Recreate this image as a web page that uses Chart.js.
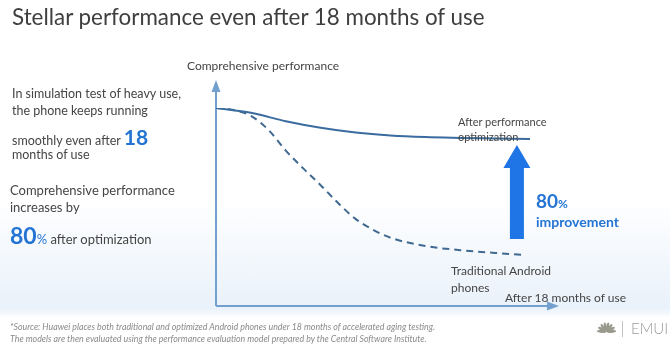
<!DOCTYPE html>
<html>
<head>
<meta charset="utf-8">
<script src="https://cdn.jsdelivr.net/npm/chart.js@4.4.1/dist/chart.umd.min.js"></script>
<style>
  html, body { margin: 0; padding: 0; }
  body {
    width: 670px; height: 350px; overflow: hidden; position: relative;
    font-family: Lato, "Open Sans", sans-serif; color: #454545;
    background: linear-gradient(to bottom, #ffffff 0px, #ffffff 200px, #e9f1fa 308px, #ffffff 318px, #ffffff 350px);
  }
  #chart { position: absolute; left: 0; top: 0; }
  .t { position: absolute; white-space: nowrap; line-height: 1; }
  .big { color: #2474d4; font-weight: bold; }
  .foot { font-style: italic; color: #8a8a8a; font-size: 8.8px; }
</style>
</head>
<body>
<canvas id="chart" width="670" height="350"></canvas>

<div class="t" style="left:12px; top:6px; font-size:22.4px; color:#3f3f3f;">Stellar performance even after 18 months of use</div>

<div class="t" style="left:12px; top:88px; font-size:12.5px;">In simulation test of heavy use,</div>
<div class="t" style="left:12px; top:105px; font-size:12.5px;">the phone keeps running</div>
<div class="t" style="left:12px; top:126px; font-size:12.5px;">smoothly even after <span class="big" style="font-size:21px;">18</span></div>
<div class="t" style="left:12px; top:149px; font-size:12.5px;">months of use</div>
<div class="t" style="left:10px; top:184px; font-size:13px;">Comprehensive performance</div>
<div class="t" style="left:10px; top:201px; font-size:13px;">increases by</div>
<div class="t" style="left:10px; top:224px; font-size:13px;"><span class="big" style="font-size:23px;">80</span><span class="big" style="font-size:13px; font-weight:normal;">%</span> after optimization</div>

<div class="t" style="left:187px; top:60px; font-size:12px;">Comprehensive performance</div>
<div class="t" style="left:458px; top:116px; font-size:11px;">After performance</div>
<div class="t" style="left:458px; top:131px; font-size:11px;">optimization</div>
<div class="t" style="left:536px; top:191px; font-size:19px;"><span class="big">80</span><span class="big" style="font-size:12px;">%</span></div>
<div class="t big" style="left:536px; top:215px; font-size:14px;">improvement</div>
<div class="t" style="left:451px; top:265px; font-size:12px;">Traditional Android</div>
<div class="t" style="left:451px; top:282px; font-size:12px;">phones</div>
<div class="t" style="left:505px; top:292px; font-size:12px;">After 18 months of use</div>

<div class="t foot" style="left:10px; top:323px;">*Source: Huawei places both traditional and optimized Android phones under 18 months of accelerated aging testing.</div>
<div class="t foot" style="left:10px; top:335px;">The models are then evaluated using the performance evaluation model prepared by the Central Software Institute.</div>
<div class="t" style="left:631px; top:321px; font-size:15px; color:#9a9a9a; font-weight:300;">EMUI</div>

<script>
// months of use (x) and comprehensive performance index (y)
const optMonths = [0, 2, 4, 6, 8, 10, 12, 14, 16, 18];
const optimized = [100, 97.6, 93.3, 90.0, 87.6, 86.1, 85.3, 84.9, 84.6, 84.3];

const tradMonths = [0, 1, 2, 3, 4, 5, 6, 7, 8, 9, 10, 12, 14, 16, 17.7];
const traditional = [100, 99, 96, 89, 78.5, 69.5, 61, 52, 44, 38.5, 34.5, 30.3, 28.2, 26.8, 25.8];

// big blue arrow between the two curves
const arrowMonth = 17.25;
const arrowFrom = 33.8;
const arrowTo = 81.3;

const axisColor = '#74a0cf';

function toPoints(xs, ys) {
    return xs.map(function(x, i) { return { x: x, y: ys[i] }; });
}

const slidePlugin = {
    id: 'slide',
    beforeDatasetsDraw: function(chart) {
        var ctx = chart.ctx, a = chart.chartArea;
        ctx.save();
        ctx.strokeStyle = axisColor;
        ctx.fillStyle = axisColor;
        ctx.lineWidth = 2;
        // y axis
        ctx.beginPath();
        ctx.moveTo(a.left, a.bottom);
        ctx.lineTo(a.left, 90);
        ctx.stroke();
        ctx.beginPath();
        ctx.moveTo(a.left, 80);
        ctx.lineTo(a.left - 4.5, 92);
        ctx.lineTo(a.left + 4.5, 92);
        ctx.closePath();
        ctx.fill();
        // x axis
        ctx.beginPath();
        ctx.moveTo(a.left, a.bottom);
        ctx.lineTo(549, a.bottom);
        ctx.stroke();
        ctx.beginPath();
        ctx.moveTo(559, a.bottom);
        ctx.lineTo(547, a.bottom - 4.5);
        ctx.lineTo(547, a.bottom + 4.5);
        ctx.closePath();
        ctx.fill();
        ctx.restore();
    },
    afterDatasetsDraw: function(chart) {
        var ctx = chart.ctx;
        var xs = chart.scales.x, ys = chart.scales.y;
        var cx = xs.getPixelForValue(arrowMonth);
        var yTop = ys.getPixelForValue(arrowTo);
        var yBot = ys.getPixelForValue(arrowFrom);
        ctx.save();
        ctx.fillStyle = '#1f74e6';
        ctx.beginPath();
        ctx.moveTo(cx, yTop);
        ctx.lineTo(cx + 13.5, yTop + 23);
        ctx.lineTo(cx + 7, yTop + 23);
        ctx.lineTo(cx + 7, yBot);
        ctx.lineTo(cx - 7, yBot);
        ctx.lineTo(cx - 7, yTop + 23);
        ctx.lineTo(cx - 13.5, yTop + 23);
        ctx.closePath();
        ctx.fill();
        ctx.restore();

        // Huawei mark (faded, as on the slide)
        ctx.save();
        ctx.translate(606.5, 332);
        ctx.fillStyle = '#9a9a8e';
        for (var i = 0; i < 8; i++) {
            var ang = (i - 3.5) * 0.42;
            ctx.save();
            ctx.rotate(ang);
            ctx.beginPath();
            ctx.ellipse(0, -5, 1.4, 4.6, 0, 0, Math.PI * 2);
            ctx.fill();
            ctx.restore();
        }
        ctx.restore();
        ctx.save();
        ctx.strokeStyle = '#c4c4c4';
        ctx.lineWidth = 1;
        ctx.beginPath();
        ctx.moveTo(622.5, 321);
        ctx.lineTo(622.5, 337);
        ctx.stroke();
        ctx.restore();
    }
};

new Chart(document.getElementById('chart'), {
    type: 'line',
    data: {
        datasets: [{
            label: 'After performance optimization',
            data: toPoints(optMonths, optimized),
            borderColor: '#3b6c9f',
            borderWidth: 2,
            pointRadius: 0,
            cubicInterpolationMode: 'monotone',
            fill: false
        }, {
            label: 'Traditional Android phones',
            data: toPoints(tradMonths, traditional),
            borderColor: '#3f6990',
            borderWidth: 2,
            borderDash: [7, 5],
            pointRadius: 0,
            cubicInterpolationMode: 'monotone',
            fill: false
        }]
    },
    options: {
        responsive: false,
        animation: false,
        layout: { padding: { left: 216, right: 140, top: 108, bottom: 44 } },
        plugins: { legend: { display: false }, tooltip: { enabled: false } },
        scales: {
            x: { type: 'linear', min: 0, max: 18, display: false },
            y: { min: 0, max: 100, display: false }
        }
    },
    plugins: [slidePlugin]
});
</script>
</body>
</html>
